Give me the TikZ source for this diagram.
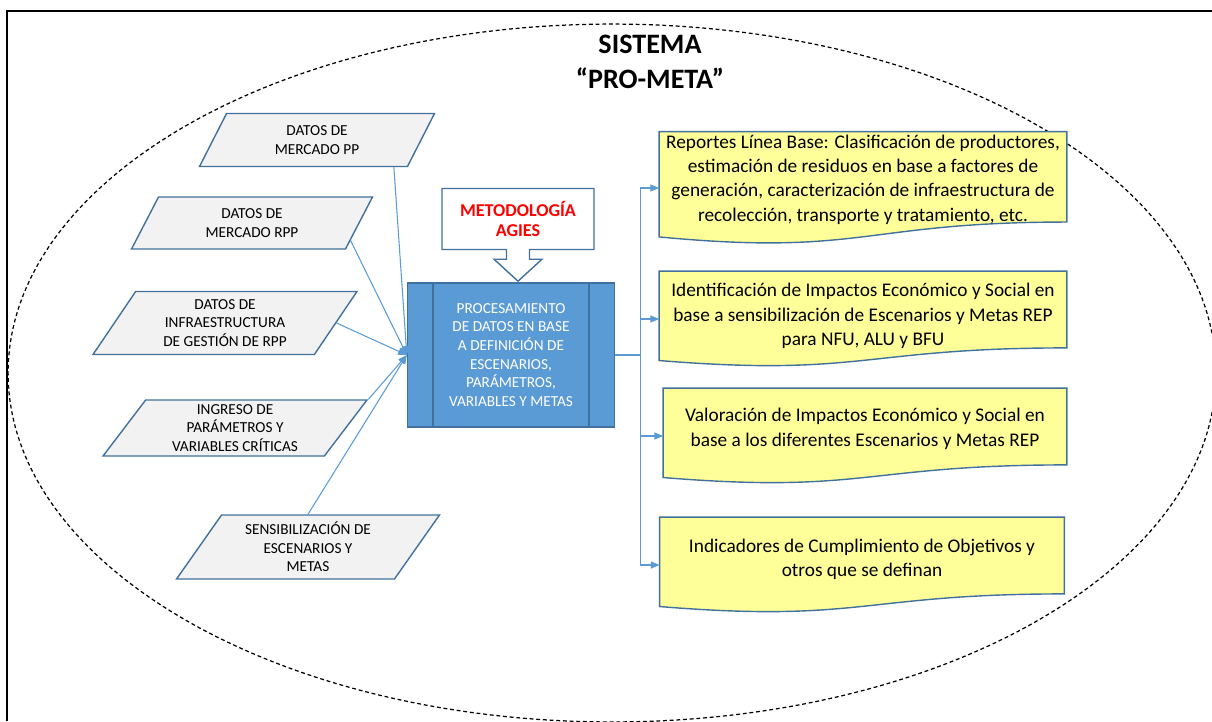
\documentclass[tikz,border=0pt]{standalone}
\usepackage{fontspec}
\setmainfont{Carlito}
\usepackage{tikz}
\usetikzlibrary{arrows.meta,positioning,calc,shapes.geometric,shapes.arrows,backgrounds}
\usepackage{xcolor}
\definecolor{edgeblue}{RGB}{65,113,156}
\definecolor{linkblue}{RGB}{91,155,213}
\definecolor{procblue}{RGB}{91,155,213}
\definecolor{boxgray}{RGB}{242,242,242}
\definecolor{noteyellow}{RGB}{255,255,153}
\definecolor{agiesred}{RGB}{255,0,0}
\tikzset{
  datain/.style={trapezium,trapezium left angle=50,trapezium right angle=130,trapezium stretches body,draw=edgeblue,fill=boxgray,line width=0.8pt,align=center,inner sep=1pt,font=\fontsize{8.7}{10.6}\selectfont},
  procbox/.style={draw=edgeblue,fill=procblue,line width=0.8pt,minimum width=4.14cm,minimum height=2.88cm,align=center,text=white,font=\fontsize{8.7}{10.6}\selectfont},
  callbox/.style={arrow box,arrow box arrows={south:0.62cm from border},arrow box shaft width=0.46cm,arrow box head extend=0.25cm,arrow box tip angle=95,draw=edgeblue,fill=white,line width=0.8pt,minimum width=3.04cm,minimum height=1.22cm,align=center,text=agiesred,font=\fontsize{10.3}{11.8}\selectfont\bfseries},
  report/.style={minimum width=8.14cm,inner sep=0pt,align=center,font=\fontsize{11}{13.9}\selectfont},
  docshape/.style={draw=edgeblue,fill=noteyellow,line width=0.8pt},
  feed/.style={-{Triangle[length=5pt,width=4pt]},draw=linkblue,line width=0.6pt},
  titletext/.style={align=center,font=\fontsize{16}{20}\selectfont\bfseries}
}
\begin{document}
\begin{tikzpicture}[x=0.02cm,y=-0.02cm]
\useasboundingbox (0,0) rectangle (1212,721);
\draw[line width=1.2pt] (1212,11) -| (7,721);

\node[titletext] (ttl) at (650,62) {SISTEMA\\“PRO-META”};

% entradas
\node[datain,minimum width=4.7cm,minimum height=1.06cm] (mkpp) at (317,140) {DATOS DE\\MERCADO PP};
\node[datain,minimum width=4.82cm,minimum height=1.04cm] (mkrpp) at (252,223) {DATOS DE\\MERCADO RPP};
\node[datain,minimum width=5.28cm,minimum height=1.26cm] (infra) at (225,323) {DATOS DE\\INFRAESTRUCTURA\\DE GESTIÓN DE RPP};
\node[datain,minimum width=5.28cm,minimum height=1.12cm] (ingreso) at (235,428) {INGRESO DE\\PARÁMETROS Y\\VARIABLES CRÍTICAS};
\node[datain,minimum width=5.26cm,minimum height=1.28cm] (sensib) at (308,547) {SENSIBILIZACIÓN DE\\ESCENARIOS Y\\METAS};

% proceso
\node[procbox] (proc) at (511,355) {PROCESAMIENTO\\DE DATOS EN BASE\\A DEFINICIÓN DE\\ESCENARIOS,\\PARÁMETROS,\\VARIABLES Y METAS};
\draw[edgeblue,line width=0.8pt] ([xshift=0.52cm]proc.north west) -- ([xshift=0.52cm]proc.south west);
\draw[edgeblue,line width=0.8pt] ([xshift=-0.52cm]proc.north east) -- ([xshift=-0.52cm]proc.south east);
\node[callbox] (metodo) at (518,219) {METODOLOGÍA\\AGIES};

% salidas
\node[report,minimum height=2.24cm] (rep1) at (863,188) {Reportes Línea Base: Clasificación de productores,\\estimación de residuos en base a factores de\\generación, caracterización de infraestructura de\\recolección, transporte y tratamiento, etc.\\[-2.5pt]};
\node[report,minimum height=1.9cm] (rep2) at (863,319) {Identificación de Impactos Económico y Social en\\base a sensibilización de Escenarios y Metas REP\\para NFU, ALU y BFU\\[-8.8pt]};
\node[report,minimum width=8.06cm,minimum height=1.9cm] (rep3) at (865,436) {Valoración de Impactos Económico y Social en\\base a los diferentes Escenarios y Metas REP\\[-4.2pt]};
\node[report,minimum width=8.08cm,minimum height=1.9cm] (rep4) at (862,565) {Indicadores de Cumplimiento de Objetivos y\\otros que se definan\\[-5.4pt]};

\begin{scope}[on background layer]
\draw[dash pattern=on 2.2pt off 1.6pt,line width=0.7pt] (612,373) ellipse [x radius=12.08cm,y radius=6.98cm];
\foreach \r in {rep1,rep2,rep3,rep4}
  \draw[docshape] (\r.north west) -- (\r.north east) -- ($(\r.north east)!0.802!(\r.south east)$)
    .. controls ($(\r.north)!0.802!(\r.south)$) and ($(\r.north)!1.107!(\r.south)$) .. ($(\r.north west)!0.934!(\r.south west)$) -- cycle;
\end{scope}

\draw[feed] ([xshift=-8pt]mkpp.bottom right corner) -- (proc.west);
\draw[feed] ($(mkrpp.bottom right corner)!0.17!(mkrpp.top right corner)$) -- (proc.west);
\draw[feed] (infra.east) -- (proc.west);
\draw[feed] (ingreso.top right corner) -- (proc.west);
\draw[feed] (sensib.north) -- (proc.west);

\coordinate (split) at ($(proc.east)+(25,0)$);
\foreach \r in {rep1,rep2,rep3,rep4}
  \draw[feed] (proc.east) -- (split) |- (\r.west);
\end{tikzpicture}
\end{document}
